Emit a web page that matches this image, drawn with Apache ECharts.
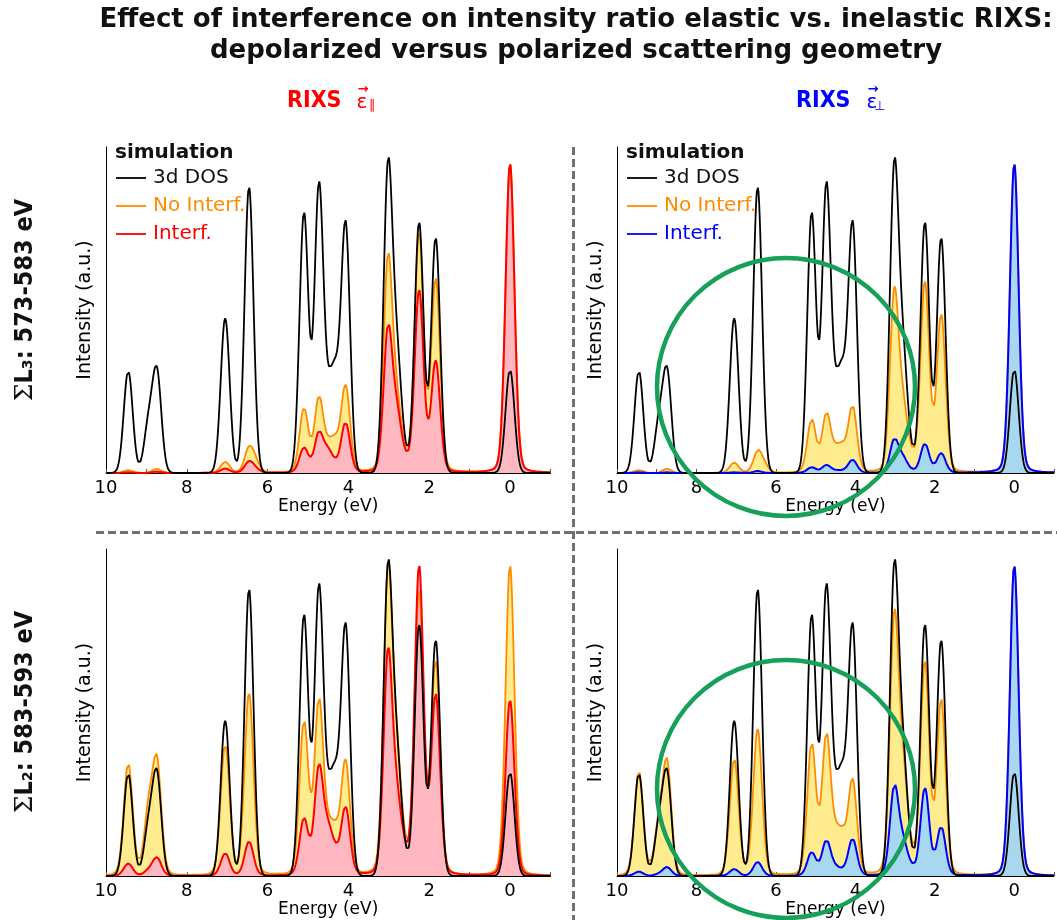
<!DOCTYPE html>
<html><head><meta charset="utf-8">
<script src="https://cdn.jsdelivr.net/npm/echarts@6/dist/echarts.min.js"></script>
<style>html,body{margin:0;padding:0;background:#fff}#c{width:1057px;height:920px}</style>
</head><body><div id="c"></div>
<script>
// ---- data: peak energies (eV) and peak intensities (a.u.) ----
const peakEnergies   = [9.45, 8.95, 8.74, 7.05, 6.46, 6.30, 5.10, 4.73, 4.50, 4.33, 4.07, 3.02, 2.80, 2.62, 2.25, 1.84, 0.00];
const dos3d          = [0.33, 0.15, 0.32, 0.50, 0.925, 0.0, 0.84, 0.92, 0.17, 0.27, 0.80, 0.97, 0.34, 0.05, 0.81, 0.76, 0.334];
const l3ParNoInterf  = [0.009, 0, 0.013, 0.035, 0.076, 0.030, 0.205, 0.235, 0.06, 0.08, 0.275, 0.678, 0.19, 0.03, 0.765, 0.62, 1.0];
const l3ParInterf    = [0.002, 0, 0.004, 0.014, 0.035, 0.010, 0.080, 0.125, 0.06, 0.015, 0.16, 0.455, 0.16, 0.03, 0.585, 0.355, 1.0];
const l3PerpNoInterf = [0.009, 0, 0.013, 0.033, 0.065, 0.022, 0.17, 0.185, 0.05, 0.065, 0.21, 0.57, 0.177, 0.04, 0.61, 0.505, 1.0];
const l3PerpInterf   = [0.002, 0, 0.002, 0.002, 0.006, 0, 0.018, 0.025, 0.005, 0.005, 0.042, 0.105, 0.042, 0.005, 0.093, 0.063, 1.0];
const l2ParNoInterf  = [0.36, 0.19, 0.354, 0.42, 0.585, 0, 0.49, 0.55, 0.10, 0.11, 0.36, 0.954, 0.327, 0.05, 0.905, 0.68, 1.0];
const l2ParInterf    = [0.04, 0.015, 0.058, 0.072, 0.11, 0, 0.18, 0.34, 0.12, 0.05, 0.215, 0.70, 0.20, 0.05, 0.99, 0.575, 0.565];
const l2PerpNoInterf = [0.335, 0.15, 0.35, 0.375, 0.47, 0, 0.42, 0.44, 0.09, 0.10, 0.30, 0.81, 0.285, 0.05, 0.68, 0.56, 1.0];
const l2PerpInterf   = [0.014, 0.005, 0.028, 0.022, 0.045, 0, 0.075, 0.112, 0.02, 0.01, 0.118, 0.28, 0.09, 0.02, 0.28, 0.155, 1.0];
const xTickLabels    = [10, 8, 6, 4, 2, 0];
const seriesNames    = ['3d DOS', 'No Interf.', 'Interf.'];
// broadening of the line spectra (eV)
const SIGMA = 0.11, GAMMA = 0.13, ETA_RIXS = 0.12;

function broaden(amps, eta) {
  const pts = [];
  for (let i = 0; i <= 1100; i++) {
    const x = -1 + i * 0.01;
    let y = 0;
    for (let k = 0; k < peakEnergies.length; k++) {
      const d = x - peakEnergies[k];
      const g = Math.exp(-d * d / (2 * SIGMA * SIGMA));
      const l = GAMMA * GAMMA / (d * d + GAMMA * GAMMA);
      y += amps[k] * ((1 - eta) * g + eta * l);
    }
    pts.push([+x.toFixed(2), y]);
  }
  return pts;
}

const FONT = 'DejaVu Sans';
const panels = [
  {grid: {left: 106, top: 147, width: 444.4, height: 326}, no: l3ParNoInterf, it: l3ParInterf, col: '#FF0000', fill: '#FFB8C0'},
  {grid: {left: 617, top: 147, width: 444.4, height: 326}, no: l3PerpNoInterf, it: l3PerpInterf, col: '#0000FF', fill: '#A8D8EF'},
  {grid: {left: 106, top: 549, width: 444.4, height: 327}, no: l2ParNoInterf, it: l2ParInterf, col: '#FF0000', fill: '#FFB8C0'},
  {grid: {left: 617, top: 549, width: 444.4, height: 327}, no: l2PerpNoInterf, it: l2PerpInterf, col: '#0000FF', fill: '#A8D8EF'}
];
const ORANGE = '#FF8C00', YELLOW = '#FFEC8F';

const grids = [], xAxes = [], yAxes = [], series = [];
panels.forEach((p, i) => {
  grids.push(Object.assign({containLabel: false}, p.grid));
  xAxes.push({
    gridIndex: i, type: 'value', inverse: true, min: -1, max: 10, interval: 1,
    axisLine: {show: true, onZero: false, lineStyle: {color: '#000', width: 1}},
    axisTick: {show: true, inside: true, length: 4, lineStyle: {color: '#555', width: 1}},
    splitLine: {show: false},
    axisLabel: {fontFamily: FONT, fontSize: 18, color: '#000', margin: 6,
      formatter: v => xTickLabels.indexOf(v) >= 0 ? String(v) : ''},
    name: 'Energy (eV)', nameLocation: 'middle', nameGap: 22,
    nameTextStyle: {fontFamily: FONT, fontSize: 17, color: '#000'}
  });
  yAxes.push({
    gridIndex: i, type: 'value', min: 0, max: 1.053,
    axisLine: {show: true, onZero: false, lineStyle: {color: '#000', width: 1}},
    axisTick: {show: false}, axisLabel: {show: false}, splitLine: {show: false},
    name: 'Intensity (a.u.)', nameLocation: 'middle', nameGap: 11,
    nameTextStyle: {fontFamily: FONT, fontSize: 19, color: '#000'}
  });
  const noData = broaden(p.no, ETA_RIXS), itData = broaden(p.it, ETA_RIXS), dosData = broaden(dos3d, 0);
  const base = {type: 'line', xAxisIndex: i, yAxisIndex: i, showSymbol: false, symbol: 'none', silent: true, animation: false};
  series.push(Object.assign({}, base, {name: seriesNames[1] + ' fill', data: noData, lineStyle: {width: 0, opacity: 0}, areaStyle: {color: YELLOW, opacity: 1}}));
  series.push(Object.assign({}, base, {name: seriesNames[2] + ' fill', data: itData, lineStyle: {width: 0, opacity: 0}, areaStyle: {color: p.fill, opacity: 1}}));
  series.push(Object.assign({}, base, {name: seriesNames[1], data: noData, lineStyle: {color: ORANGE, width: 1.8}}));
  series.push(Object.assign({}, base, {name: seriesNames[2], data: itData, lineStyle: {color: p.col, width: 2}}));
  series.push(Object.assign({}, base, {name: seriesNames[0], data: dosData, lineStyle: {color: '#000', width: 1.8}}));
});

const graphic = [];
// titles
graphic.push({type: 'text', x: 576, y: 20, style: {text: 'Effect of interference on intensity ratio elastic vs. inelastic RIXS:', font: 'bold 26px "DejaVu Sans"', fill: '#111', align: 'center', verticalAlign: 'middle'}});
graphic.push({type: 'text', x: 576, y: 51, style: {text: 'depolarized versus polarized scattering geometry', font: 'bold 26px "DejaVu Sans"', fill: '#111', align: 'center', verticalAlign: 'middle'}});
// column headers
function header(x0, col, sub, epsX, subX, subY) {
  graphic.push({type: 'text', x: x0, y: 101, style: {text: 'RIXS', font: 'bold 23px "DejaVu Sans Condensed"', fill: col, align: 'left', verticalAlign: 'middle'}});
  graphic.push({type: 'text', x: epsX, y: 103, style: {text: 'ε', font: '20px "DejaVu Sans"', fill: col, align: 'center', verticalAlign: 'middle'}});
  graphic.push({type: 'text', x: epsX + 1, y: 90, style: {text: '→', font: 'bold 13px "DejaVu Sans"', fill: col, align: 'center', verticalAlign: 'middle'}});
  graphic.push({type: 'text', x: subX, y: subY, style: {text: sub, font: '13px "DejaVu Sans"', fill: col, align: 'center', verticalAlign: 'middle'}});
}
header(287, '#FF0000', '∥', 362, 372, 106);
header(796, '#0000FF', '⊥', 872, 880, 107);
// row labels
function rowLabel(y, txt) {
  graphic.push({type: 'text', x: 25, y: y, rotation: Math.PI / 2, style: {
    text: '{s|Σ}{b|' + txt + '}', align: 'center', verticalAlign: 'middle',
    rich: {s: {font: '25px "DejaVu Serif"', fill: '#111'}, b: {font: 'bold 25px "DejaVu Sans Condensed"', fill: '#111'}}
  }});
}
rowLabel(300, 'L₃: 573-583 eV');
rowLabel(712, 'L₂: 583-593 eV');
// legends
function legend(x0, col) {
  graphic.push({type: 'text', x: x0, y: 153, style: {text: 'simulation', font: 'bold 20px "DejaVu Sans"', fill: '#111', align: 'left', verticalAlign: 'middle'}});
  const cols = ['#000', ORANGE, col];
  cols.forEach((c, k) => {
    const y = 178 + k * 28;
    graphic.push({type: 'line', shape: {x1: x0 + 1, y1: y, x2: x0 + 31, y2: y}, style: {stroke: c, lineWidth: 1.8}});
    graphic.push({type: 'text', x: x0 + 38, y: y, style: {text: seriesNames[k], font: '20px "DejaVu Sans"', fill: k === 0 ? '#111' : c, align: 'left', verticalAlign: 'middle'}});
  });
}
legend(115, '#FF0000');
legend(626, '#0000FF');
// dashed separators
graphic.push({type: 'line', z: 50, shape: {x1: 573.5, y1: 147, x2: 573.5, y2: 920}, style: {stroke: '#707070', lineWidth: 3, lineDash: [8, 4]}});
graphic.push({type: 'line', z: 50, shape: {x1: 96, y1: 532.5, x2: 1057, y2: 532.5}, style: {stroke: '#707070', lineWidth: 3, lineDash: [8, 4]}});
// green circles
graphic.push({type: 'circle', z: 100, shape: {cx: 786, cy: 387, r: 129}, style: {fill: 'none', stroke: '#17A05A', lineWidth: 4.5}});
graphic.push({type: 'circle', z: 100, shape: {cx: 786, cy: 789, r: 129}, style: {fill: 'none', stroke: '#17A05A', lineWidth: 4.5}});

const chart = echarts.init(document.getElementById('c'), null, {renderer: 'canvas'});
chart.setOption({
  animation: false, backgroundColor: '#fff',
  textStyle: {fontFamily: FONT},
  grid: grids, xAxis: xAxes, yAxis: yAxes, series: series, graphic: graphic
});
</script></body></html>
